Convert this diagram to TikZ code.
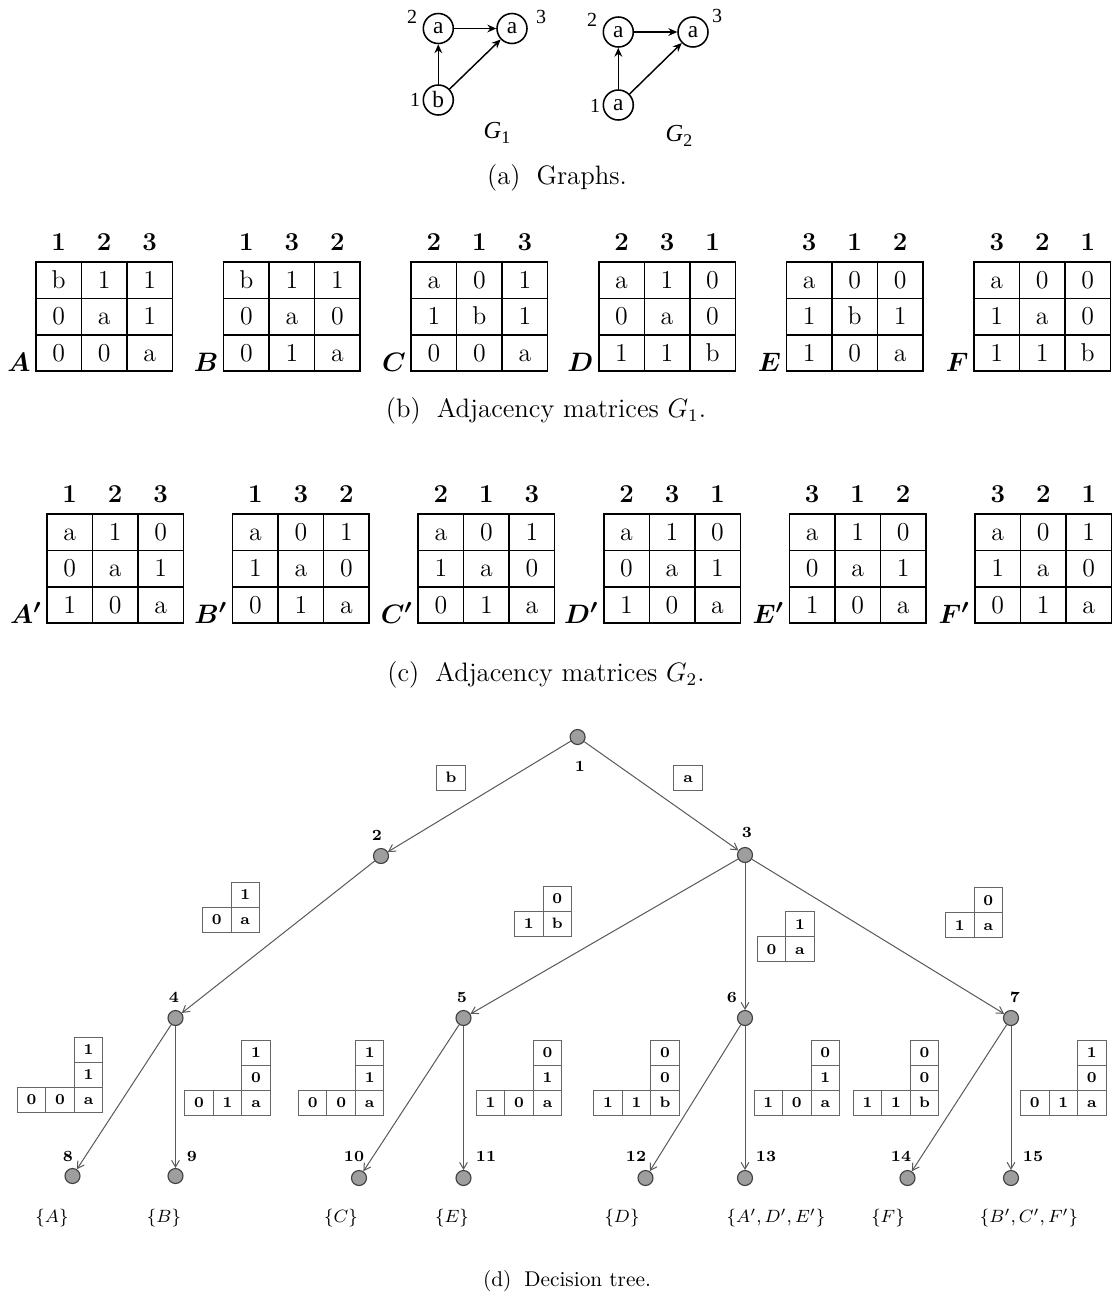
\documentclass[tikz,border=0pt]{standalone}
\usepackage{fontspec}
\usepackage{bm}
\usetikzlibrary{arrows.meta}
\newfontfamily\timesf{Liberation Serif}

\tikzset{
  gnode/.style={circle, draw, line width=0.7pt, minimum size=13.5pt, inner sep=0pt, font=\timesf\fontsize{10.5}{11}\selectfont},
  gnum/.style={inner sep=0pt, font=\timesf\fontsize{9}{10}\selectfont},
  glab/.style={inner sep=0pt, font=\timesf\fontsize{11}{12}\selectfont},
  garrow/.style={line width=0.65pt, -{Stealth[length=4pt,width=3.5pt]}},
  capt/.style={inner sep=0pt, font=\fontsize{12}{14}\selectfont},
  captd/.style={inner sep=0pt, font=\fontsize{9.6}{12}\selectfont},
  mcell/.style={draw, line width=0.65pt, minimum width=20.475pt, minimum height=16.38pt, inner sep=0pt, text height=7.5pt, text depth=0pt, font=\fontsize{11.6}{13}\selectfont},
  mhead/.style={anchor=base, inner sep=0pt, font=\fontsize{11.6}{13}\selectfont\bfseries},
  mlabel/.style={anchor=base east, inner sep=0pt, font=\fontsize{13}{15}\selectfont},
  tnode/.style={circle, draw=black!75, fill=black!38, line width=0.5pt, minimum size=6.75pt, inner sep=0pt},
  tnum/.style={inner sep=0pt, font=\fontsize{7}{8}\selectfont\bfseries},
  tcell/.style={draw=black!60, line width=0.45pt, minimum width=12.825pt, minimum height=11.25pt, inner sep=0pt, text height=4.4pt, text depth=0pt, font=\fontsize{6.8}{8}\selectfont\bfseries},
  tedge/.style={draw=black!65, line width=0.45pt, -{Straight Barb[length=3pt,width=3.5pt]}},
  tset/.style={inner sep=0pt, font=\fontsize{8}{9}\selectfont},
}

% adjacency matrix: name, left x, top y, label, headers, row1, row2, row3
\newcommand\amat[8]{%
  \foreach \hh [count=\ci] in {#5}
    \node[mhead] (#1-h\ci) at ({#2+(\ci-0.5)*45.5},{#3-11.5}) {\hh};
  \foreach \ee [count=\ci] in {#6}
    \node[mcell] (#1-1-\ci) at ({#2+(\ci-0.5)*45.5},{#3+0.5*36.4}) {\ee};
  \foreach \ee [count=\ci] in {#7}
    \node[mcell] (#1-2-\ci) at ({#2+(\ci-0.5)*45.5},{#3+1.5*36.4}) {\ee};
  \foreach \ee [count=\ci] in {#8}
    \node[mcell] (#1-3-\ci) at ({#2+(\ci-0.5)*45.5},{#3+2.5*36.4}) {\ee};
  \node[mlabel] (#1-lab) at ({#2-5},{#3+109}) {$\bm{#4}$};
}
% two-row partial matrix: name, x of right column, top y, top, left, corner
\newcommand\tmatA[6]{%
  \node[tcell] (#1-t) at ({#2+14.25},{#3+12.5}) {#4};
  \node[tcell] (#1-l) at ({#2-14.25},{#3+37.5}) {#5};
  \node[tcell] (#1-c) at ({#2+14.25},{#3+37.5}) {#6};
}
% three-row partial matrix: name, x, y, top, mid, bl1, bl2, corner
\newcommand\tmatB[8]{%
  \node[tcell] (#1-t) at ({#2+14.25},{#3+12.5}) {#4};
  \node[tcell] (#1-m) at ({#2+14.25},{#3+37.5}) {#5};
  \node[tcell] (#1-a) at ({#2-42.75},{#3+62.5}) {#6};
  \node[tcell] (#1-b) at ({#2-14.25},{#3+62.5}) {#7};
  \node[tcell] (#1-c) at ({#2+14.25},{#3+62.5}) {#8};
}

\begin{document}
\begin{tikzpicture}[x=0.45pt,y=-0.45pt]
\useasboundingbox[fill=white] (0,0) rectangle (1113,1296);

% ---------- (a) graphs ----------
\node[gnode] (a2) at (438.3,28.5) {a};
\node[gnode] (a3) at (512,28.5) {a};
\node[gnode] (a1) at (438.3,100) {b};
\node[gnum] (a2l) at (412,17) {2};
\node[gnum] (a3l) at (541,17) {3};
\node[gnum] (a1l) at (415,100) {1};
\node[glab] (G1) at (497,133) {\textit{G}\raisebox{-0.45ex}{\fontsize{8}{9}\selectfont 1}};
\draw[garrow] (a1) -- (a2);
\draw[garrow] (a2) -- (a3);
\draw[garrow] (a1) -- (a3);

\node[gnode] (b2) at (618.3,32) {a};
\node[gnode] (b3) at (693,32) {a};
\node[gnode] (b1) at (618.3,105) {a};
\node[gnum] (b2l) at (592,20) {2};
\node[gnum] (b3l) at (717,16) {3};
\node[gnum] (b1l) at (595,106) {1};
\node[glab] (G2) at (679,136) {\textit{G}\raisebox{-0.45ex}{\fontsize{8}{9}\selectfont 2}};
\draw[garrow] (b1) -- (b2);
\draw[garrow] (b2) -- (b3);
\draw[garrow] (b1) -- (b3);

\node[capt] (capa) at (557,178) {(a)\hspace{0.6em}Graphs.};

% ---------- (b) matrices G1 ----------
\amat{A}{36}{262}{A}{1,2,3}{b,1,1}{0,a,1}{0,0,a}
\amat{B}{223.6}{262}{B}{1,3,2}{b,1,1}{0,a,0}{0,1,a}
\amat{C}{411.2}{262}{C}{2,1,3}{a,0,1}{1,b,1}{0,0,a}
\amat{D}{598.8}{262}{D}{2,3,1}{a,1,0}{0,a,0}{1,1,b}
\amat{E}{786.4}{262}{E}{3,1,2}{a,0,0}{1,b,1}{1,0,a}
\amat{F}{974}{262}{F}{3,2,1}{a,0,0}{1,a,0}{1,1,b}
\node[capt] (capb) at (546,411) {(b)\hspace{0.6em}Adjacency matrices $G_1$.};

% ---------- (c) matrices G2 ----------
\amat{Ap}{47}{514}{A'}{1,2,3}{a,1,0}{0,a,1}{1,0,a}
\amat{Bp}{232.6}{514}{B'}{1,3,2}{a,0,1}{1,a,0}{0,1,a}
\amat{Cp}{418.2}{514}{C'}{2,1,3}{a,0,1}{1,a,0}{0,1,a}
\amat{Dp}{603.8}{514}{D'}{2,3,1}{a,1,0}{0,a,1}{1,0,a}
\amat{Ep}{789.4}{514}{E'}{3,1,2}{a,1,0}{0,a,1}{1,0,a}
\amat{Fp}{975}{514}{F'}{3,2,1}{a,0,1}{1,a,0}{0,1,a}
\node[capt] (capc) at (546,675) {(c)\hspace{0.6em}Adjacency matrices $G_2$.};

% ---------- (d) decision tree ----------
\node[tnode] (n1) at (577.6,737) {};
\node[tnode] (n2) at (381,856) {};
\node[tnode] (n3) at (745,855) {};
\node[tnode] (n4) at (175.5,1018) {};
\node[tnode] (n5) at (463.5,1018) {};
\node[tnode] (n6) at (745,1018) {};
\node[tnode] (n7) at (1011,1018) {};
\node[tnode] (n8) at (72.5,1176) {};
\node[tnode] (n9) at (175.5,1176) {};
\node[tnode] (n10) at (359,1178) {};
\node[tnode] (n11) at (463.5,1178) {};
\node[tnode] (n12) at (645.5,1178) {};
\node[tnode] (n13) at (745,1178) {};
\node[tnode] (n14) at (907.5,1178) {};
\node[tnode] (n15) at (1011,1178) {};

\node[tnum] (l1) at (580,766) {1};
\node[tnum] (l2) at (377,835) {2};
\node[tnum] (l3) at (747,832) {3};
\node[tnum] (l4) at (174,997) {4};
\node[tnum] (l5) at (462,997) {5};
\node[tnum] (l6) at (732,997) {6};
\node[tnum] (l7) at (1015,997) {7};
\node[tnum] (l8) at (68,1156) {8};
\node[tnum] (l9) at (192,1156) {9};
\node[tnum] (l10) at (354,1156) {10};
\node[tnum] (l11) at (486,1156) {11};
\node[tnum] (l12) at (636,1156) {12};
\node[tnum] (l13) at (766,1156) {13};
\node[tnum] (l14) at (901,1156) {14};
\node[tnum] (l15) at (1033,1156) {15};

\draw[tedge] (n1) -- (n2);
\draw[tedge] (n1) -- (n3);
\draw[tedge] (n2) -- (n4);
\draw[tedge] (n3) -- (n5);
\draw[tedge] (n3) -- (n6);
\draw[tedge] (n3) -- (n7);
\draw[tedge] (n4) -- (n8);
\draw[tedge] (n4) -- (n9);
\draw[tedge] (n5) -- (n10);
\draw[tedge] (n5) -- (n11);
\draw[tedge] (n6) -- (n12);
\draw[tedge] (n6) -- (n13);
\draw[tedge] (n7) -- (n14);
\draw[tedge] (n7) -- (n15);

% edge label boxes
\node[tcell, minimum width=13.05pt] (eb) at (451,778) {b};
\node[tcell, minimum width=13.05pt] (ea) at (688,778) {a};

% partial matrices, level 1
\tmatA{p24}{231}{882}{1}{0}{a}
\tmatA{p35}{543}{886.5}{0}{1}{b}
\tmatA{p36}{785.7}{911.7}{1}{0}{a}
\tmatA{p37}{974}{887.7}{0}{1}{a}

% partial matrices, level 2
\tmatB{p48}{74.3}{1037}{1}{1}{0}{0}{a}
\tmatB{p49}{241.8}{1040}{1}{0}{0}{1}{a}
\tmatB{p510}{355.4}{1040}{1}{1}{0}{0}{a}
\tmatB{p511}{533.3}{1040}{0}{1}{1}{0}{a}
\tmatB{p612}{650.7}{1040}{0}{0}{1}{1}{b}
\tmatB{p613}{811}{1040}{0}{1}{1}{0}{a}
\tmatB{p714}{910.3}{1040}{0}{0}{1}{1}{b}
\tmatB{p715}{1077.6}{1040}{1}{0}{0}{1}{a}

% leaf sets
\node[tset] (s8) at (52,1218) {$\{A\}$};
\node[tset] (s9) at (164,1218) {$\{B\}$};
\node[tset] (s10) at (341,1218) {$\{C\}$};
\node[tset] (s11) at (452,1218) {$\{E\}$};
\node[tset] (s12) at (622,1218) {$\{D\}$};
\node[tset] (s13) at (776,1218) {$\{A', D', E'\}$};
\node[tset] (s14) at (888,1218) {$\{F\}$};
\node[tset] (s15) at (1029,1218) {$\{B', C', F'\}$};

\node[captd] (capd) at (567,1281) {(d)\hspace{0.6em}Decision tree.};
\end{tikzpicture}
\end{document}
